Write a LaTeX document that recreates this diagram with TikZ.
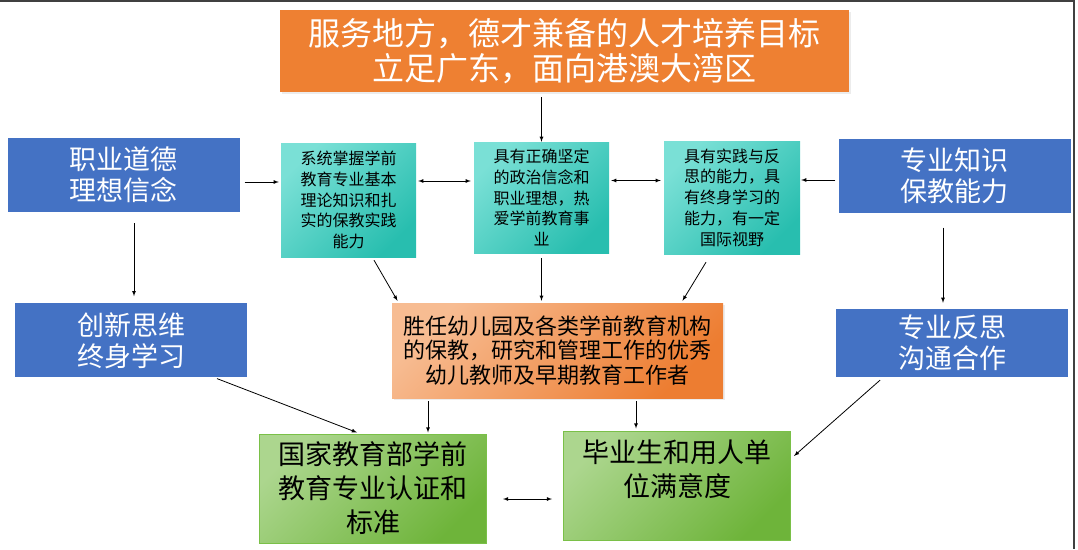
\documentclass[tikz,border=0pt]{standalone}
\usepackage{fontspec}
\setmainfont{Noto Sans CJK SC}
\usetikzlibrary{positioning,shapes,arrows,shadows}

\definecolor{aimorange}{RGB}{238,128,50}
\definecolor{qualblue}{RGB}{68,114,196}
\definecolor{teallight}{RGB}{122,224,214}
\definecolor{tealdark}{RGB}{40,190,175}
\definecolor{goallight}{RGB}{247,188,146}
\definecolor{goaldark}{RGB}{237,125,49}
\definecolor{greenlight}{RGB}{172,214,142}
\definecolor{greendark}{RGB}{110,180,58}
\definecolor{greenedge}{RGB}{122,192,72}

\begin{document}
\begin{tikzpicture}[
    x=1pt, y=-1pt,
    block/.style={
      text centered, align=center, inner sep=0pt
    },
    soft/.style={drop shadow={opacity=0.15, shadow xshift=1.5pt, shadow yshift=-2pt}},
    aim/.style={block, soft, fill=aimorange, text=white,
      minimum width=569pt, minimum height=82pt, font=\fontsize{32}{35}\selectfont},
    quality/.style={block, fill=qualblue, text=white,
      minimum width=232pt, minimum height=74pt, font=\fontsize{27}{31}\selectfont},
    ability/.style={block, top color=teallight, bottom color=tealdark, shading angle=45,
      minimum width=135pt, minimum height=113pt, font=\fontsize{16}{20.7}\selectfont},
    goal/.style={block, soft, top color=goallight, bottom color=goaldark, shading angle=45,
      minimum width=331pt, minimum height=95pt, font=\fontsize{22}{24.5}\selectfont},
    result/.style={block, top color=greenlight, bottom color=greendark, shading angle=45,
      draw=greenedge, line width=1pt,
      minimum width=227pt, minimum height=109pt, font=\fontsize{27}{34}\selectfont},
    link/.style={-latex, line width=0.8pt},
    twoway/.style={latex-latex, line width=0.8pt},
    frame/.style={draw=black!75, line width=1.2pt},
  ]
    \useasboundingbox (0,0) rectangle (1078,549);
    \draw[frame] (0,1) -- (1074,1) -- (1074,549);

    % aim on top
    \node[aim](aim) at (564.5,51) {服务地方，德才兼备的人才培养目标\\立足广东，面向港澳大湾区};

    % qualities, left and right
    \node[quality](l1) at (123.5,175) {职业道德\\理想信念};
    \node[quality, below=91pt of l1, xshift=7.5pt](l2) {创新思维\\终身学习};
    \node[quality](r1) at (954.5,175.5) {专业知识\\保教能力};
    \node[quality, minimum height=68pt](r2) at (952,343) {专业反思\\沟通合作};

    % abilities
    \node[ability, minimum height=114pt](t1) at (348.5,200) {系统掌握学前\\教育专业基本\\理论知识和扎\\实的保教实践\\能力};
    \node[ability, minimum height=111pt](t2) at (541.5,197.5) {具有正确坚定\\的政治信念和\\职业理想，热\\爱学前教育事\\业};
    \node[ability, minimum width=136pt](t3) at (732,197.5) {具有实践与反\\思的能力，具\\有终身学习的\\能力，有一定\\国际视野};

    % goal
    \node[goal](mid) at (557.5,350.5) {胜任幼儿园及各类学前教育机构\\的保教，研究和管理工作的优秀\\幼儿教师及早期教育工作者};

    % results
    \node[result](g1) at (373,488.5) {国家教育部学前\\教育专业认证和\\标准};
    \node[result](g2) at (677,485.5) {毕业生和用人单\\位满意度\\~};

    \draw[link, shorten <=5pt] (t2.north |- aim.south) -- (t2.north);
    \draw[link, shorten <=5pt, shorten >=2pt] ([yshift=-7pt]l1.east) -- ([yshift=-7pt]l1.east -| t1.west);
    \draw[twoway, shorten <=2pt, shorten >=3pt] ([yshift=19pt]t1.east) -- ([yshift=19pt]t1.east -| t2.west);
    \draw[twoway, shorten <=2pt, shorten >=3pt] ([yshift=17pt]t2.east) -- ([yshift=17pt]t2.east -| t3.west);
    \draw[link, shorten <=3pt, shorten >=1pt] ([yshift=-4.5pt]r1.west) -- ([yshift=-4.5pt]r1.west -| t3.east);
    \draw[link, shorten <=11pt, shorten >=7pt] ([xshift=10.5pt]l1.south) -- ([xshift=10.5pt]l1.south |- l2.north);
    \draw[link, shorten <=15pt, shorten >=6pt] ([xshift=-11.5pt]r1.south) -- ([xshift=-11.5pt]r1.south |- r2.north);
    \draw[link] ([xshift=25.5pt,yshift=-3pt]t1.south) -- ([xshift=-160pt,yshift=2pt]mid.north);
    \draw[link, shorten <=5pt, shorten >=2pt] (t2.south) -- (t2.south |- mid.north);
    \draw[link] ([xshift=-26pt,yshift=-8pt]t3.south) -- ([xshift=125pt,yshift=2pt]mid.north);
    \draw[link, shorten <=3pt, shorten >=1pt] ([xshift=-129.5pt]mid.south) -- ([xshift=-129.5pt]mid.south |- g1.north);
    \draw[link, shorten <=3pt, shorten >=2pt] ([xshift=78.5pt]mid.south) -- ([xshift=78.5pt]mid.south |- g2.north);
    \draw[link] ([xshift=86pt,yshift=-1pt]l2.south) -- ([xshift=-16pt,yshift=1pt]g1.north);
    \draw[link] ([xshift=-72pt,yshift=-3pt]r2.south) -- ([xshift=3pt,yshift=29.5pt]g2.east);
    \draw[twoway, shorten <=16pt, shorten >=11pt] ([yshift=-10.5pt]g1.east) -- ([yshift=-10.5pt]g1.east -| g2.west);

  \end{tikzpicture}
\end{document}
